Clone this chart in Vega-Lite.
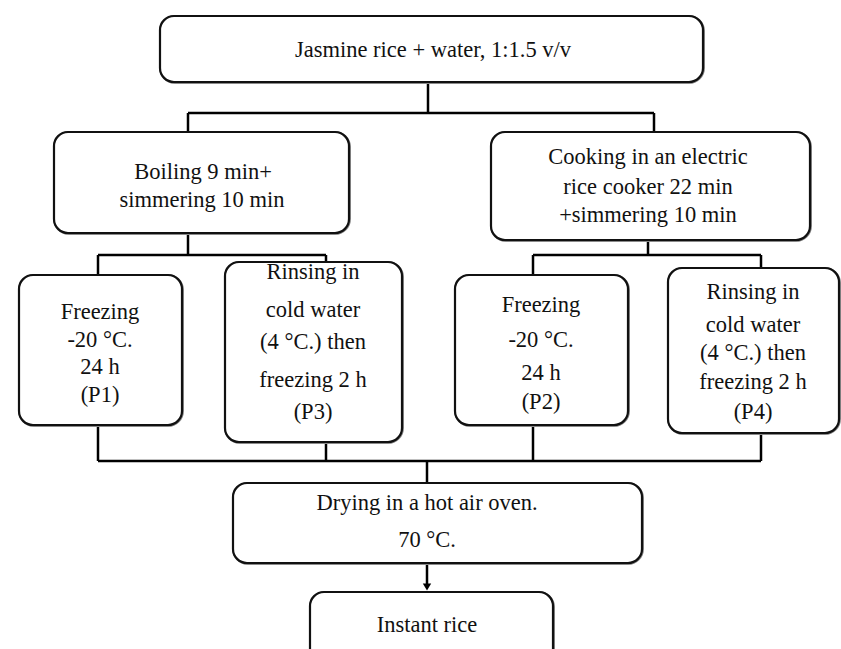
{
  "$schema": "https://vega.github.io/schema/vega-lite/v6.json",
  "width": 841,
  "height": 649,
  "padding": 0,
  "autosize": {"type": "none"},
  "background": "white",
  "config": {"view": {"stroke": null}},
  "datasets": {
    "boxes": [
      {"id": "top", "x": 160, "x2": 703, "y": 16, "y2": 82},
      {"id": "boil", "x": 54, "x2": 349, "y": 132, "y2": 233},
      {"id": "cook", "x": 491, "x2": 810, "y": 132, "y2": 240},
      {"id": "P1", "x": 19, "x2": 182, "y": 275, "y2": 425},
      {"id": "P3", "x": 225, "x2": 402, "y": 262, "y2": 442},
      {"id": "P2", "x": 455, "x2": 628, "y": 275, "y2": 425},
      {"id": "P4", "x": 668, "x2": 839, "y": 268, "y2": 433},
      {"id": "dry", "x": 233, "x2": 642, "y": 483, "y2": 563},
      {"id": "instant", "x": 310, "x2": 553, "y": 592, "y2": 680}
    ],
    "links": [
      {"x": 428, "y": 82, "x2": 428, "y2": 113},
      {"x": 188, "y": 113, "x2": 654, "y2": 113},
      {"x": 188, "y": 113, "x2": 188, "y2": 132},
      {"x": 654, "y": 113, "x2": 654, "y2": 132},
      {"x": 188, "y": 233, "x2": 188, "y2": 255},
      {"x": 98, "y": 255, "x2": 326, "y2": 255},
      {"x": 98, "y": 255, "x2": 98, "y2": 275},
      {"x": 326, "y": 255, "x2": 326, "y2": 262},
      {"x": 648, "y": 240, "x2": 648, "y2": 255},
      {"x": 533, "y": 255, "x2": 761, "y2": 255},
      {"x": 533, "y": 255, "x2": 533, "y2": 275},
      {"x": 761, "y": 255, "x2": 761, "y2": 268},
      {"x": 98, "y": 425, "x2": 98, "y2": 461},
      {"x": 326, "y": 442, "x2": 326, "y2": 461},
      {"x": 533, "y": 425, "x2": 533, "y2": 461},
      {"x": 761, "y": 433, "x2": 761, "y2": 461},
      {"x": 98, "y": 461, "x2": 761, "y2": 461},
      {"x": 427, "y": 461, "x2": 427, "y2": 483},
      {"x": 427, "y": 563, "x2": 427, "y2": 586}
    ],
    "arrows": [
      {"x": 427, "y": 587}
    ],
    "labels": [
      {"x": 433, "y": 50, "text": "Jasmine rice + water, 1:1.5 v/v"},
      {"x": 203, "y": 172, "text": "Boiling 9 min+"},
      {"x": 202, "y": 200, "text": "simmering 10 min"},
      {"x": 648, "y": 157, "text": "Cooking in an electric"},
      {"x": 648, "y": 187, "text": "rice cooker 22 min"},
      {"x": 648, "y": 215, "text": "+simmering 10 min"},
      {"x": 100, "y": 312, "text": "Freezing"},
      {"x": 100, "y": 340, "text": "-20 °C."},
      {"x": 100, "y": 367, "text": "24 h"},
      {"x": 100, "y": 395, "text": "(P1)"},
      {"x": 313, "y": 272, "text": "Rinsing in"},
      {"x": 313, "y": 310, "text": "cold water"},
      {"x": 313, "y": 342, "text": "(4 °C.)  then"},
      {"x": 313, "y": 380, "text": "freezing 2 h"},
      {"x": 313, "y": 412, "text": "(P3)"},
      {"x": 541, "y": 305, "text": "Freezing"},
      {"x": 541, "y": 340, "text": "-20 °C."},
      {"x": 541, "y": 373, "text": "24 h"},
      {"x": 541, "y": 402, "text": "(P2)"},
      {"x": 753, "y": 292, "text": "Rinsing in"},
      {"x": 753, "y": 325, "text": "cold water"},
      {"x": 753, "y": 353, "text": "(4 °C.) then"},
      {"x": 753, "y": 382, "text": "freezing 2 h"},
      {"x": 753, "y": 412, "text": "(P4)"},
      {"x": 427, "y": 503, "text": "Drying in a hot air oven."},
      {"x": 427, "y": 540, "text": "70 °C."},
      {"x": 427, "y": 625, "text": "Instant rice"}
    ]
  },
  "resolve": {"scale": {"x": "shared", "y": "shared"}},
  "layer": [
    {
      "data": {"name": "links"},
      "mark": {"type": "rule", "color": "black", "strokeWidth": 2.5},
      "encoding": {
        "x": {"field": "x", "type": "quantitative", "scale": {"domain": [0, 841]}, "axis": null},
        "y": {"field": "y", "type": "quantitative", "scale": {"domain": [0, 649], "reverse": true}, "axis": null},
        "x2": {"field": "x2"},
        "y2": {"field": "y2"}
      }
    },
    {
      "data": {"name": "boxes"},
      "mark": {"type": "rect", "fill": "white", "stroke": "#8a8a8a", "strokeWidth": 4, "cornerRadius": 14, "xOffset": 1, "yOffset": 1},
      "encoding": {
        "x": {"field": "x", "type": "quantitative", "scale": {"domain": [0, 841]}, "axis": null},
        "x2": {"field": "x2"},
        "y": {"field": "y", "type": "quantitative", "scale": {"domain": [0, 649], "reverse": true}, "axis": null},
        "y2": {"field": "y2"}
      }
    },
    {
      "data": {"name": "boxes"},
      "mark": {"type": "rect", "fill": "white", "stroke": "#111111", "strokeWidth": 2.2, "cornerRadius": 14},
      "encoding": {
        "x": {"field": "x", "type": "quantitative", "scale": {"domain": [0, 841]}, "axis": null},
        "x2": {"field": "x2"},
        "y": {"field": "y", "type": "quantitative", "scale": {"domain": [0, 649], "reverse": true}, "axis": null},
        "y2": {"field": "y2"}
      }
    },
    {
      "data": {"name": "arrows"},
      "mark": {"type": "point", "shape": "triangle-down", "filled": true, "color": "black", "size": 70, "opacity": 1},
      "encoding": {
        "x": {"field": "x", "type": "quantitative", "scale": {"domain": [0, 841]}, "axis": null},
        "y": {"field": "y", "type": "quantitative", "scale": {"domain": [0, 649], "reverse": true}, "axis": null}
      }
    },
    {
      "data": {"name": "labels"},
      "mark": {"type": "text", "font": "Liberation Serif", "fontSize": 22.5, "color": "#111111", "align": "center", "baseline": "middle"},
      "encoding": {
        "x": {"field": "x", "type": "quantitative", "scale": {"domain": [0, 841]}, "axis": null},
        "y": {"field": "y", "type": "quantitative", "scale": {"domain": [0, 649], "reverse": true}, "axis": null},
        "text": {"field": "text"}
      }
    }
  ]
}
